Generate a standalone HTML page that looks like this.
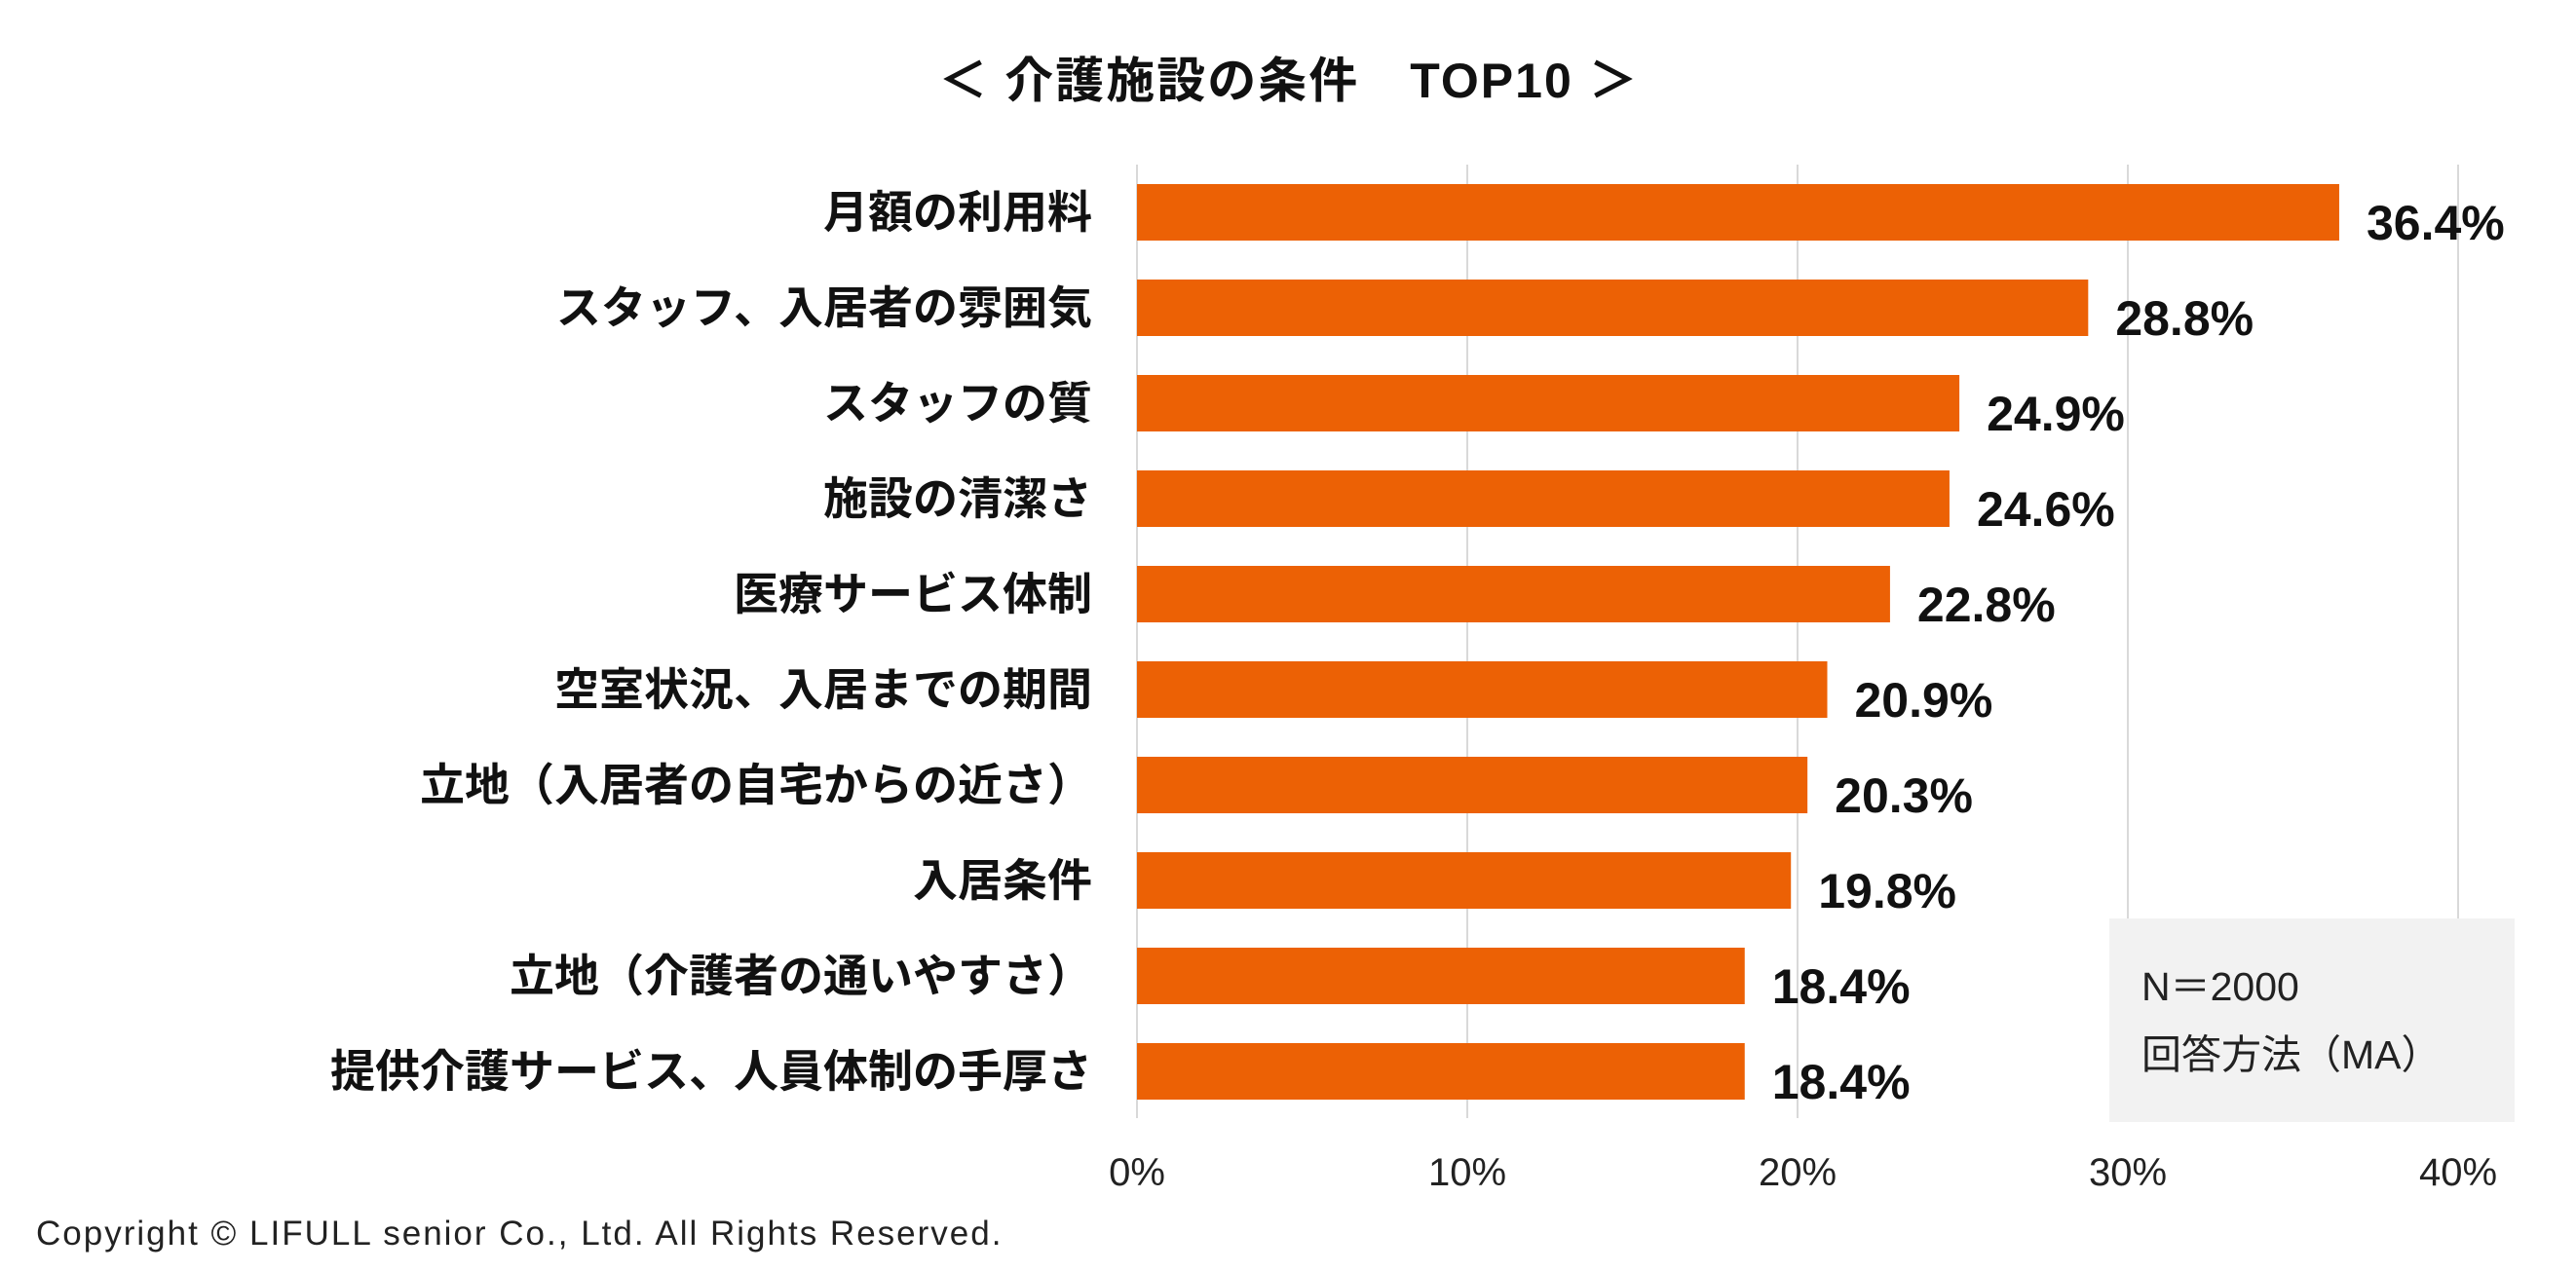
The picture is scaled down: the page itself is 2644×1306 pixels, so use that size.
<!DOCTYPE html>
<html><head><meta charset="utf-8"><style>
html,body{margin:0;padding:0;background:#fff}
svg{display:block}
text{font-family:"Liberation Sans","Noto Sans CJK JP",sans-serif}
</style></head><body>
<svg id="chart" width="2644" height="1306" viewBox="0 0 2644 1306" xmlns="http://www.w3.org/2000/svg">
<text x="1323" y="100" text-anchor="middle" font-size="50" font-weight="bold" fill="#111" letter-spacing="2">＜ 介護施設の条件　TOP10 ＞</text>
<g id="grid"></g>
<g id="bars"></g>
<g id="labels"></g>
<g id="values"></g>
<g id="ticks"></g>
<rect x="2165" y="943" width="416" height="209" fill="#f2f2f2"/>
<text x="2198" y="1027" font-size="41" fill="#222">N＝2000</text>
<text x="2198" y="1097" font-size="41" fill="#222">回答方法（MA）</text>
<text x="37" y="1278" font-size="35" letter-spacing="2" fill="#222">Copyright © LIFULL senior Co., Ltd. All Rights Reserved.</text>
</svg>
<script>
const categories=["月額の利用料","スタッフ、入居者の雰囲気","スタッフの質","施設の清潔さ","医療サービス体制","空室状況、入居までの期間","立地（入居者の自宅からの近さ）","入居条件","立地（介護者の通いやすさ）","提供介護サービス、人員体制の手厚さ"];
const values=[36.4,28.8,24.9,24.6,22.8,20.9,20.3,19.8,18.4,18.4];
const tickValues=[0,10,20,30,40];
const tickLabels=["0%","10%","20%","30%","40%"];
const NS="http://www.w3.org/2000/svg";
const x0=1167,pxPer=33.9,top0=189,step=98,bh=58;
const xs=v=>x0+v*pxPer;
const yb=i=>top0+i*step;
function mk(t,a,p){const e=document.createElementNS(NS,t);for(const k in a)e.setAttribute(k,a[k]);p.appendChild(e);return e;}
const G=document.getElementById('grid'),B=document.getElementById('bars'),L=document.getElementById('labels'),V=document.getElementById('values'),T=document.getElementById('ticks');
tickValues.forEach((t,i)=>{
 const l=mk('line',{x1:xs(t),x2:xs(t),y1:169,y2:1148,stroke:'#d9d9d9','stroke-width':2},G);
 
 
 const tx=mk('text',{x:xs(t),y:1217,'text-anchor':'middle','font-size':40,fill:'#222'},T);
 tx.textContent=tickLabels[i];
 
 
});
categories.forEach((c,i)=>{
 const r=mk('rect',{x:x0,y:yb(i),width:xs(values[i])-x0,height:bh,fill:'#ec6105'},B);
 
 
 const lt=mk('text',{x:1121,y:yb(i)+bh/2+16,'text-anchor':'end','font-size':46,'font-weight':'bold',fill:'#111'},L);
 lt.textContent=c;
 
 
 const vt=mk('text',{x:xs(values[i])+28,y:yb(i)+bh/2+28,'font-size':50,'font-weight':'bold',fill:'#111'},V);
 vt.textContent=values[i].toFixed(1)+'%';
 
 
});
</script>
</body></html>
